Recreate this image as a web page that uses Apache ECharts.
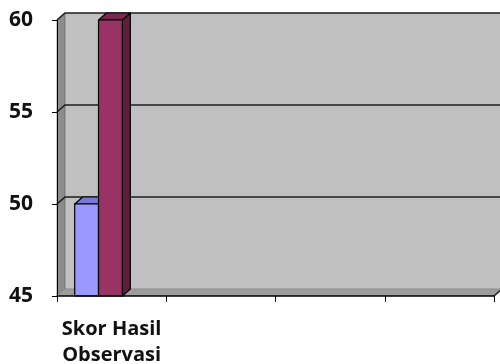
<!DOCTYPE html>
<html>
<head>
<meta charset="utf-8">
<script src="https://cdn.jsdelivr.net/npm/echarts@6/dist/echarts.min.js"></script>
<style>
  html, body { margin: 0; padding: 0; background: #ffffff; }
  #chart { width: 500px; height: 364px; }
</style>
</head>
<body>
<div id="chart"></div>
<script>
// Category axis: four slots, only the first one carries data
const categories = ['Skor Hasil\nObservasi', '', '', ''];
const seri1 = [50];
const seri2 = [60];
const yTicks = [45, 50, 55, 60];

// 3D depth offset of the back wall, in pixels
const DX = 8, DY = -7;

const chart = echarts.init(document.getElementById('chart'), null, { renderer: 'canvas' });

function renderWalls(params, api) {
  const cs = params.coordSys;
  const left = cs.x, right = cs.x + cs.width;
  const top = cs.y, bottom = cs.y + cs.height;
  const children = [
    { type: 'rect', shape: { x: left + DX, y: top + DY, width: cs.width, height: cs.height },
      style: { fill: '#c0c0c0' } },
    { type: 'polygon', shape: { points: [[left, top], [left + DX, top + DY], [left + DX, bottom + DY], [left, bottom]] },
      style: { fill: '#8c8c8c', stroke: '#555', lineWidth: 0.6 } },
    { type: 'polygon', shape: { points: [[left, bottom], [left + DX, bottom + DY], [right + DX, bottom + DY], [right, bottom]] },
      style: { fill: '#9c9c9c' } }
  ];
  yTicks.forEach(function (v) {
    const y = api.coord([0, v])[1];
    if (v === yTicks[0]) {
      children.push({ type: 'polyline', shape: { points: [[left + DX, y + DY], [right + DX, y + DY]] },
        style: { stroke: '#8a8a8a', lineWidth: 1, fill: null } });
      children.push({ type: 'line', shape: { x1: right, y1: y, x2: right + DX, y2: y + DY },
        style: { stroke: '#222', lineWidth: 1.5 } });
    } else {
      children.push({ type: 'polyline', shape: { points: [[left, y], [left + DX, y + DY], [right + DX, y + DY]] },
        style: { stroke: '#1e1e1e', lineWidth: 1.6, fill: null } });
    }
  });
  return { type: 'group', children: children };
}

function makeBarRenderer(slot, front, side, topFace) {
  return function (params, api) {
    const cat = api.value(0), val = api.value(1);
    const c = api.coord([cat, val]);
    const base = api.coord([cat, yTicks[0]]);
    const catW = api.size([1, 0])[0];
    const bw = catW * 0.218;
    const x = c[0] - catW * 0.338 + slot * bw;
    const yT = c[1], yB = base[1];
    const st = { stroke: '#000', lineWidth: 1.2, lineJoin: 'round' };
    return {
      type: 'group',
      children: [
        { type: 'polygon', shape: { points: [[x + bw, yT], [x + bw + DX, yT + DY], [x + bw + DX, yB + DY], [x + bw, yB]] },
          style: Object.assign({ fill: side }, st) },
        { type: 'polygon', shape: { points: [[x, yT], [x + DX, yT + DY], [x + bw + DX, yT + DY], [x + bw, yT]] },
          style: Object.assign({ fill: topFace }, st) },
        { type: 'rect', shape: { x: x, y: yT, width: bw, height: yB - yT },
          style: Object.assign({ fill: front }, st) }
      ]
    };
  };
}

const labelFont = { fontFamily: 'Open Sans', fontWeight: 'bold', color: '#111' };

chart.setOption({
  backgroundColor: '#ffffff',
  animation: false,
  grid: { left: 57, right: 6, top: 20, bottom: 68, containLabel: false, outerBoundsMode: 'none' },
  xAxis: {
    type: 'category',
    data: categories,
    boundaryGap: true,
    axisLine: { show: true, lineStyle: { color: '#000', width: 1.5 } },
    axisTick: { show: true, length: 6, interval: 0, lineStyle: { color: '#000', width: 1 } },
    axisLabel: Object.assign({ fontSize: 20, lineHeight: 26, margin: 20, interval: 0 }, labelFont),
    splitLine: { show: false },
    z: 5
  },
  yAxis: {
    type: 'value',
    min: 45, max: 60, interval: 5,
    axisLine: { show: true, lineStyle: { color: '#000', width: 1 } },
    axisTick: { show: true, length: 5, lineStyle: { color: '#000', width: 1 } },
    axisLabel: Object.assign({ fontSize: 21, margin: 24 }, labelFont),
    splitLine: { show: false },
    z: 5
  },
  series: [
    { type: 'custom', name: 'dinding', renderItem: renderWalls, data: [[0, 45]], z: 1, silent: true },
    { type: 'custom', name: 'Seri 1', renderItem: makeBarRenderer(0, '#9999ff', '#6b6bb3', '#7a7ad6'),
      data: seri1.map(function (v, i) { return [i, v]; }), z: 2 },
    { type: 'custom', name: 'Seri 2', renderItem: makeBarRenderer(1, '#993366', '#5e1f3f', '#7a2851'),
      data: seri2.map(function (v, i) { return [i, v]; }), z: 3 }
  ]
});
</script>
</body>
</html>
